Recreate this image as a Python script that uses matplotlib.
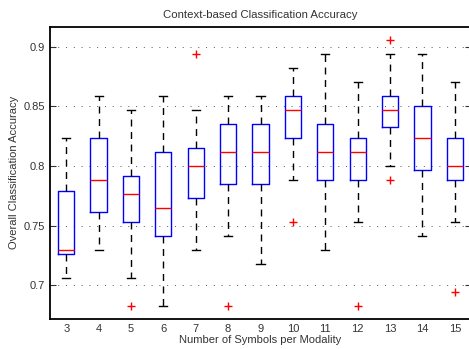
import matplotlib
matplotlib.use("Agg")
import matplotlib.pyplot as plt

# symbols per modality
labels = ["3", "4", "5", "6", "7", "8", "9", "10", "11", "12", "13", "14", "15"]

# box statistics
whislo = [0.706, 0.7296, 0.706, 0.6824, 0.7296, 0.7412, 0.7176, 0.7882, 0.7296, 0.7529, 0.8, 0.7412, 0.7529]
q1 = [0.7265, 0.7618, 0.7529, 0.7412, 0.7735, 0.7853, 0.7853, 0.8235, 0.7882, 0.7882, 0.8324, 0.797, 0.7882]
med = [0.7294, 0.7882, 0.7765, 0.7647, 0.8, 0.8118, 0.8118, 0.8471, 0.8118, 0.8118, 0.8471, 0.8235, 0.8]
q3 = [0.7794, 0.8235, 0.7912, 0.8118, 0.8147, 0.8353, 0.8353, 0.8588, 0.8353, 0.8235, 0.8588, 0.85, 0.8235]
whishi = [0.8235, 0.8588, 0.8471, 0.8588, 0.8471, 0.8588, 0.8588, 0.8824, 0.8941, 0.8706, 0.8941, 0.8941, 0.8706]
fliers = [[], [], [0.6824], [], [0.8941], [0.6824], [], [0.7529], [], [0.6824], [0.9059, 0.7882], [], [0.6941]]

stats = []
for i in range(len(labels)):
    stats.append({"whislo": whislo[i], "q1": q1[i], "med": med[i], "q3": q3[i],
                  "whishi": whishi[i], "fliers": fliers[i], "label": labels[i]})

plt.rcParams["font.family"] = ["Liberation Sans", "DejaVu Sans"]

fig = plt.figure(figsize=(4.69, 3.49), dpi=100)
ax = fig.add_axes([50 / 469, 30 / 349, 421 / 469, 292.3 / 349])

ax.bxp(stats, widths=0.5,
       boxprops=dict(color="blue", linewidth=1),
       medianprops=dict(color="red", linewidth=1),
       whiskerprops=dict(color="black", linestyle=(0, (5, 4)), linewidth=1),
       capprops=dict(color="black", linewidth=1),
       flierprops=dict(marker="+", markeredgecolor="red", markersize=6, linestyle="none"),
       capwidths=0.25)

ax.set_xlim(0.5, 13.5)
ax.set_ylim(0.6717, 0.9168)
ax.set_yticks([0.7, 0.75, 0.8, 0.85, 0.9])
ax.set_yticklabels(["0.7", "0.75", "0.8", "0.85", "0.9"])
ax.yaxis.grid(True, linestyle=(0, (1, 7)), color="#555555", linewidth=0.7)
ax.tick_params(direction="in", labelsize=8, length=4, right=True, colors="#333333")
ax.tick_params(axis="x", length=0)
for s in ax.spines.values():
    s.set_linewidth(1.3)

ax.set_title("Context-based Classification Accuracy", fontsize=8.2, color="#333333", pad=6)
ax.set_xlabel("Number of Symbols per Modality", fontsize=8, color="#333333", labelpad=1)
ax.set_ylabel("Overall Classification Accuracy", fontsize=8, color="#333333", labelpad=3)

fig.savefig("out.png", dpi=100)
